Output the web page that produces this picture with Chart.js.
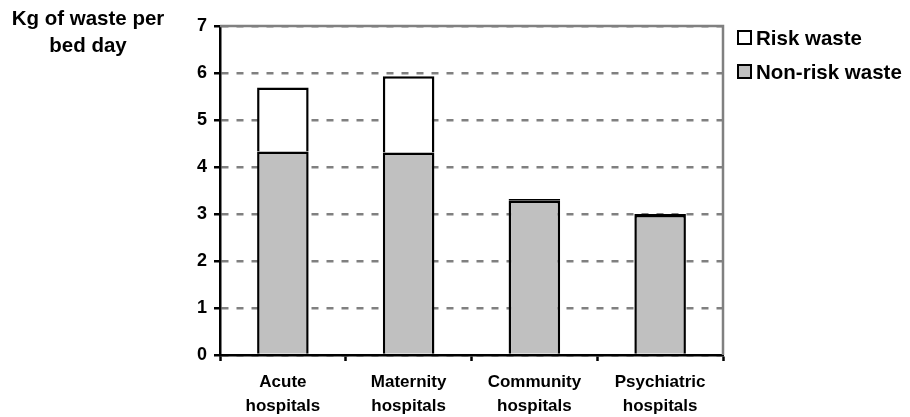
<!DOCTYPE html>
<html>
<head>
<meta charset="utf-8">
<script src="https://cdn.jsdelivr.net/npm/chart.js@4/dist/chart.umd.min.js"></script>
<style>
  html, body { margin: 0; padding: 0; background: #fff; }
  #wrap { width: 910px; height: 417px; position: relative; }
</style>
</head>
<body>
<div id="wrap"><canvas id="wasteChart"></canvas></div>
<script>
// hospital types (two-line labels)
const categories = [
    ['Acute', 'hospitals'],
    ['Maternity', 'hospitals'],
    ['Community', 'hospitals'],
    ['Psychiatric', 'hospitals']
];
// kg per bed day
const nonRiskWaste = [4.33, 4.31, 3.28, 2.98];
const riskWaste = [1.36, 1.62, 0.04, 0.02];
const yTicks = [0, 1, 2, 3, 4, 5, 6, 7];
const axisCaption = ['Kg of waste per', 'bed day'];

const FONT = "'Liberation Sans', Arial, sans-serif";

// caption, legend and the grey frame on top/right
const extras = {
    id: 'extras',
    afterDraw(chart) {
        const ctx = chart.ctx;
        const area = chart.chartArea;
        ctx.save();

        // frame
        ctx.strokeStyle = '#808080';
        ctx.lineWidth = 2.5;
        ctx.beginPath();
        ctx.moveTo(area.left, area.top);
        ctx.lineTo(area.right, area.top);
        ctx.lineTo(area.right, area.bottom);
        ctx.stroke();

        // y axis caption
        ctx.fillStyle = '#000';
        ctx.font = 'bold 20.5px ' + FONT;
        ctx.textAlign = 'center';
        ctx.textBaseline = 'middle';
        ctx.fillText(axisCaption[0], 88, 19);
        ctx.fillText(axisCaption[1], 88, 46);

        // legend, top series first
        const sets = chart.data.datasets.slice().reverse();
        ctx.textAlign = 'left';
        sets.forEach((ds, i) => {
            const y = 38 + i * 34;
            ctx.fillStyle = ds.backgroundColor;
            ctx.fillRect(738, y - 7, 13, 13);
            ctx.strokeStyle = '#000';
            ctx.lineWidth = 2;
            ctx.strokeRect(738, y - 7, 13, 13);
            ctx.fillStyle = '#000';
            ctx.fillText(ds.label, 756, y + 1);
        });
        ctx.restore();
    }
};

new Chart(document.getElementById('wasteChart'), {
    type: 'bar',
    data: {
        labels: categories,
        datasets: [
            {
                label: 'Non-risk waste',
                data: nonRiskWaste,
                backgroundColor: '#c0c0c0',
                borderColor: '#000',
                borderWidth: 2.5,
                borderSkipped: 'bottom'
            },
            {
                label: 'Risk waste',
                data: riskWaste,
                backgroundColor: '#ffffff',
                borderColor: '#000',
                borderWidth: 2.5,
                // very thin segments stay solid black
                borderSkipped: (c) => (c.raw > 0.1 ? 'bottom' : false),
                inflateAmount: 0
            }
        ]
    },
    options: {
        responsive: true,
        maintainAspectRatio: false,
        animation: false,
        layout: { padding: { top: 26, right: 187, left: 0, bottom: 0 } },
        plugins: {
            legend: { display: false },
            tooltip: { enabled: false }
        },
        datasets: {
            bar: { barPercentage: 0.41, categoryPercentage: 1 }
        },
        scales: {
            x: {
                stacked: true,
                afterFit: (scale) => { scale.height = 62; },
                grid: {
                    offset: true,
                    drawOnChartArea: false,
                    tickLength: 6,
                    tickColor: '#000',
                    tickWidth: 2.5
                },
                border: { color: '#000', width: 2.5 },
                ticks: {
                    color: '#000',
                    padding: 9,
                    maxRotation: 0,
                    font: { family: FONT, size: 17, weight: 'bold', lineHeight: 1.42 }
                }
            },
            y: {
                stacked: true,
                min: 0,
                max: 7,
                afterFit: (scale) => { scale.width = 220; },
                afterBuildTicks: (scale) => {
                    scale.ticks = yTicks.map(v => ({ value: v }));
                },
                grid: {
                    color: '#808080',
                    lineWidth: 2.5,
                    tickLength: 6,
                    tickColor: '#000',
                    tickWidth: 2.5,
                    tickBorderDash: []
                },
                border: { color: '#000', width: 2.5, dash: [7, 8] },
                ticks: {
                    color: '#000',
                    padding: 7,
                    font: { family: FONT, size: 18, weight: 'bold' }
                }
            }
        }
    },
    plugins: [extras]
});
</script>
</body>
</html>
